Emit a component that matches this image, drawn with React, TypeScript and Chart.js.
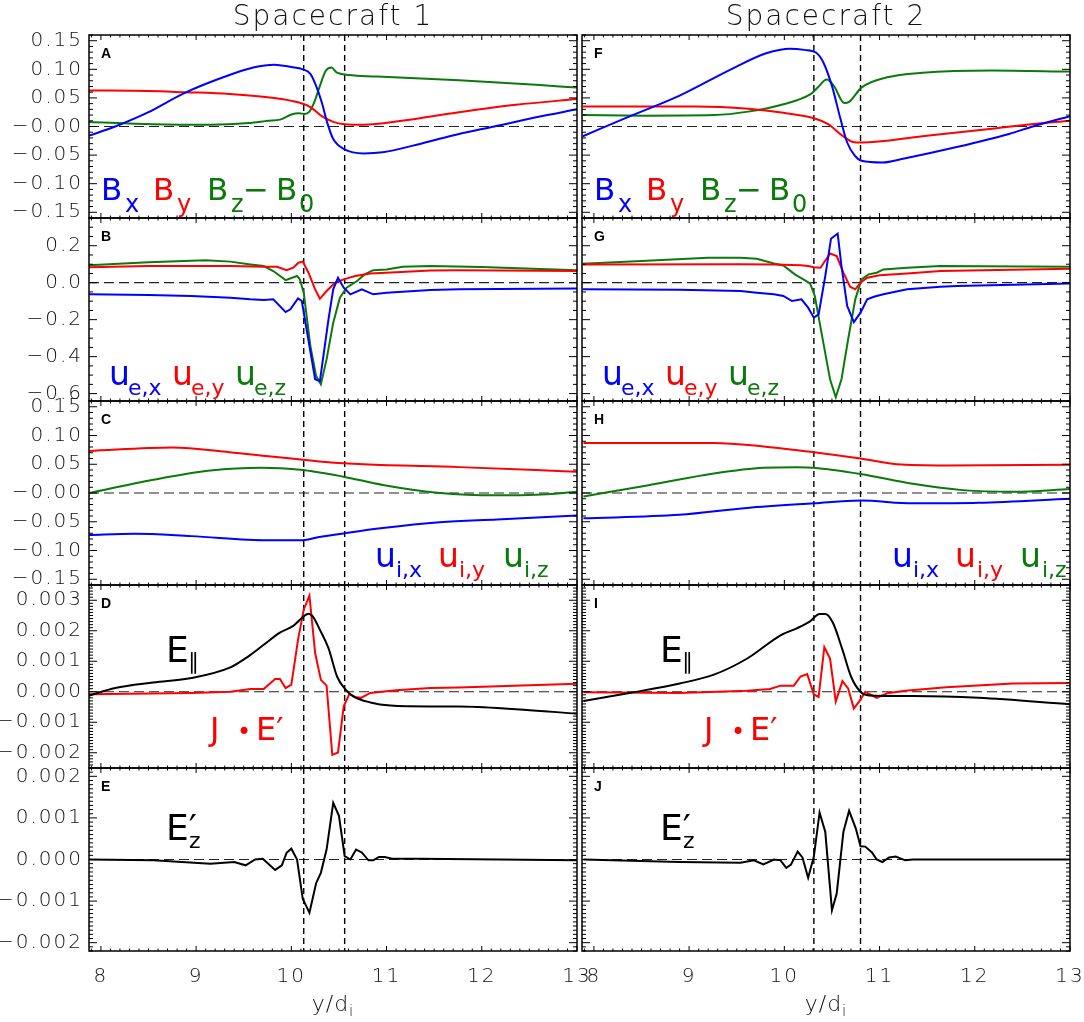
import { useEffect, useRef } from 'react';
import { Chart, registerables } from 'chart.js';

Chart.register(...registerables);

type Pt = [number, number];

// shared x axis, y/d_i
const X_MIN = 7.875;
const X_MAX = 13;
const xTickValues = [8, 9, 10, 11, 12, 13];

// vertical dashed markers
const dashesSC1 = [10.13, 10.56];
const dashesSC2 = [10.31, 10.8];

// y tick values / labels per row
const ticksAC = [0.15, 0.1, 0.05, 0, -0.05, -0.1, -0.15];
const labelsAC = ['0.15', '0.10', '0.05', '−0.00', '−0.05', '−0.10', '−0.15'];
const ticksB = [0.2, 0, -0.2, -0.4, -0.6];
const labelsB = ['0.2', '0.0', '−0.2', '−0.4', '−0.6'];
const ticksD = [0.003, 0.002, 0.001, 0, -0.001, -0.002];
const labelsD = ['0.003', '0.002', '0.001', '0.000', '−0.001', '−0.002'];
const ticksE = [0.002, 0.001, 0, -0.001, -0.002];
const labelsE = ['0.002', '0.001', '0.000', '−0.001', '−0.002'];

// ---- Spacecraft 1 ----
const bxL: Pt[] = [[7.875,-0.016],[8.15,0.0],[8.5,0.025],[8.87,0.058],[9.35,0.09],[9.6,0.103],[9.82,0.108],[10.0,0.104],[10.12,0.1],[10.2,0.092],[10.26,0.071],[10.32,0.042],[10.38,0.005],[10.44,-0.022],[10.56,-0.04],[10.76,-0.047],[10.96,-0.045],[11.36,-0.03],[11.76,-0.013],[12.13,0.0],[12.57,0.016],[13.0,0.03]];
const byL: Pt[] = [[7.875,0.063],[8.5,0.062],[8.87,0.06],[9.35,0.057],[9.82,0.05],[10.08,0.042],[10.2,0.034],[10.32,0.018],[10.44,0.008],[10.56,0.004],[10.76,0.003],[11.16,0.01],[11.76,0.025],[12.36,0.038],[13.0,0.048]];
const bzL: Pt[] = [[7.875,0.008],[8.55,0.004],[9.15,0.003],[9.55,0.006],[9.76,0.01],[9.88,0.012],[10.0,0.021],[10.08,0.023],[10.14,0.022],[10.19,0.026],[10.24,0.042],[10.3,0.071],[10.36,0.097],[10.42,0.103],[10.48,0.094],[10.56,0.091],[10.8,0.088],[10.96,0.087],[11.76,0.081],[12.57,0.073],[13.0,0.068]];

const uexL: Pt[] = [[7.875,-0.063],[8.5,-0.066],[8.95,-0.072],[9.36,-0.081],[9.57,-0.09],[9.71,-0.094],[9.81,-0.09],[9.94,-0.159],[9.99,-0.144],[10.07,-0.085],[10.11,-0.099],[10.16,-0.252],[10.25,-0.523],[10.3,-0.532],[10.39,-0.198],[10.44,-0.036],[10.49,0.027],[10.55,-0.027],[10.62,-0.063],[10.74,-0.036],[10.86,-0.063],[11.0,-0.054],[11.46,-0.04],[11.76,-0.036],[13.0,-0.032]];
const ueyL: Pt[] = [[7.875,0.084],[8.5,0.09],[9.36,0.09],[9.71,0.086],[9.85,0.086],[9.95,0.068],[10.02,0.081],[10.075,0.108],[10.12,0.114],[10.18,0.054],[10.25,-0.036],[10.3,-0.087],[10.37,-0.045],[10.46,0.0],[10.55,0.018],[10.67,0.036],[10.83,0.05],[11.1,0.057],[11.46,0.066],[11.76,0.068],[13.0,0.063]];
const uezL: Pt[] = [[7.875,0.094],[8.5,0.11],[9.1,0.122],[9.36,0.114],[9.57,0.099],[9.71,0.09],[9.81,0.063],[9.94,0.014],[10.06,0.036],[10.09,0.018],[10.13,-0.054],[10.2,-0.343],[10.26,-0.505],[10.31,-0.55],[10.37,-0.415],[10.44,-0.216],[10.51,-0.081],[10.58,-0.027],[10.69,0.009],[10.77,0.045],[10.86,0.068],[11.0,0.072],[11.17,0.086],[11.46,0.09],[12.0,0.085],[13.0,0.068]];

const uixL: Pt[] = [[7.875,-0.073],[8.35,-0.071],[8.95,-0.075],[9.76,-0.082],[10.12,-0.082],[10.28,-0.077],[10.56,-0.07],[10.96,-0.061],[11.56,-0.051],[12.16,-0.046],[13.0,-0.039]];
const uiyL: Pt[] = [[7.875,0.073],[8.75,0.079],[9.35,0.071],[9.76,0.064],[10.12,0.058],[10.36,0.054],[10.76,0.05],[11.76,0.045],[12.57,0.04],[13.0,0.037]];
const uizL: Pt[] = [[7.875,0.0],[8.55,0.023],[9.15,0.039],[9.68,0.044],[10.12,0.04],[10.28,0.036],[10.56,0.028],[10.96,0.014],[11.56,0.0],[12.16,-0.004],[12.57,-0.003],[13.0,0.002]];

const eparL: Pt[] = [[7.875,-0.00013],[8.15,0.00012],[8.55,0.0003],[8.95,0.00045],[9.36,0.0008],[9.53,0.00112],[9.71,0.00154],[9.88,0.00194],[10.02,0.00216],[10.11,0.00242],[10.18,0.00256],[10.23,0.00245],[10.3,0.00203],[10.39,0.00143],[10.48,0.0005],[10.57,0.00007],[10.65,-0.00015],[10.83,-0.00035],[11.04,-0.00045],[11.46,-0.00048],[11.76,-0.00048],[12.36,-0.00057],[13.0,-0.00072]];
const jeL: Pt[] = [[7.875,-0.00008],[8.95,-0.00004],[9.36,0.0],[9.57,0.00009],[9.71,0.00009],[9.83,0.00042],[9.88,0.00042],[9.94,0.00012],[10.0,0.00023],[10.07,0.0017],[10.13,0.00269],[10.19,0.00315],[10.25,0.00127],[10.31,0.00039],[10.37,0.0002],[10.43,-0.00207],[10.49,-0.00199],[10.55,-0.00048],[10.61,-0.00007],[10.67,-0.00017],[10.73,-0.0002],[10.83,-0.00004],[11.1,0.00005],[11.46,0.00012],[11.76,0.00014],[13.0,0.00026]];

const ezL: Pt[] = [[7.875,0.0],[8.55,-0.00002],[9.15,-0.0001],[9.4,-0.00006],[9.52,-0.00014],[9.62,0.0],[9.7,0.00002],[9.83,-0.00025],[9.9,-0.00014],[9.95,0.00016],[10.0,0.00026],[10.06,0.0],[10.12,-0.00095],[10.19,-0.00128],[10.26,-0.00057],[10.31,-0.00032],[10.37,0.00024],[10.44,0.00136],[10.5,0.00105],[10.56,0.00008],[10.62,0.0],[10.68,0.00024],[10.74,0.00017],[10.81,-0.00002],[10.86,-0.00002],[10.92,0.00006],[10.98,0.00006],[11.06,0.00002],[11.36,0.00002],[13.0,-0.00002]];

// ---- Spacecraft 2 ----
const bxR: Pt[] = [[7.884,-0.017],[8.35,0.016],[8.9,0.054],[9.44,0.1],[9.81,0.128],[10.06,0.136],[10.21,0.134],[10.335,0.129],[10.41,0.112],[10.5,0.071],[10.59,0.013],[10.66,-0.028],[10.74,-0.051],[10.81,-0.06],[11.03,-0.063],[11.26,-0.056],[11.81,-0.036],[12.36,-0.013],[12.61,0.0],[13.0,0.018]];
const byR: Pt[] = [[7.884,0.035],[9.08,0.035],[9.62,0.031],[9.99,0.024],[10.32,0.014],[10.46,0.004],[10.61,-0.016],[10.72,-0.027],[10.81,-0.028],[11.45,-0.017],[12.18,-0.004],[12.54,0.003],[13.0,0.01]];
const bzR: Pt[] = [[7.884,0.02],[8.53,0.019],[9.26,0.02],[9.62,0.026],[9.99,0.039],[10.28,0.057],[10.35,0.068],[10.445,0.082],[10.52,0.071],[10.63,0.041],[10.68,0.043],[10.81,0.068],[11.08,0.086],[11.45,0.094],[12.18,0.098],[13.0,0.096]];

const uexR: Pt[] = [[7.884,-0.036],[8.9,-0.038],[9.54,-0.045],[9.71,-0.054],[9.89,-0.063],[9.99,-0.072],[10.08,-0.099],[10.18,-0.09],[10.25,-0.135],[10.31,-0.189],[10.36,-0.171],[10.43,0.036],[10.49,0.238],[10.56,0.266],[10.6,0.09],[10.66,-0.126],[10.73,-0.213],[10.8,-0.162],[10.87,-0.09],[10.94,-0.076],[11.04,-0.063],[11.29,-0.036],[11.64,-0.022],[11.81,-0.018],[13.0,-0.004]];
const ueyR: Pt[] = [[7.884,0.099],[9.54,0.1],[9.89,0.099],[10.17,0.095],[10.25,0.09],[10.31,0.084],[10.38,0.081],[10.48,0.158],[10.55,0.144],[10.62,0.054],[10.69,-0.022],[10.745,-0.036],[10.8,0.0],[10.87,0.027],[11.0,0.04],[11.29,0.05],[11.64,0.063],[13.0,0.076]];
const uezR: Pt[] = [[7.884,0.103],[8.5,0.117],[9.2,0.135],[9.54,0.135],[9.71,0.13],[9.89,0.104],[9.99,0.093],[10.11,0.045],[10.2,0.018],[10.27,-0.004],[10.32,-0.072],[10.39,-0.27],[10.48,-0.523],[10.54,-0.62],[10.6,-0.523],[10.67,-0.306],[10.745,-0.09],[10.81,0.018],[10.885,0.045],[10.97,0.054],[11.04,0.072],[11.29,0.081],[11.64,0.09],[13.0,0.086]];

const uixR: Pt[] = [[7.89,-0.044],[8.9,-0.038],[9.61,-0.026],[10.31,-0.018],[10.8,-0.013],[11.35,-0.018],[12.04,-0.017],[13.0,-0.01]];
const uiyR: Pt[] = [[7.89,0.087],[9.26,0.087],[9.78,0.081],[10.31,0.071],[10.8,0.06],[11.18,0.05],[11.7,0.048],[13.0,0.049]];
const uizR: Pt[] = [[7.89,-0.006],[8.56,0.013],[9.26,0.034],[9.78,0.044],[10.13,0.045],[10.31,0.044],[10.8,0.033],[11.35,0.016],[11.87,0.005],[12.4,0.002],[13.0,0.007]];

const eparR: Pt[] = [[7.89,-0.0003],[8.39,-0.00003],[8.9,0.00027],[9.26,0.00056],[9.61,0.00109],[9.96,0.00185],[10.13,0.00208],[10.27,0.00231],[10.37,0.00255],[10.43,0.00255],[10.51,0.00226],[10.61,0.00138],[10.7,0.0005],[10.8,0.0],[10.89,-0.00012],[11.35,-0.00014],[12.04,-0.0002],[13.0,-0.00041]];
const jeR: Pt[] = [[7.89,-0.00002],[8.9,-0.00004],[9.61,0.00003],[9.85,0.00009],[9.96,0.0002],[10.1,0.0002],[10.17,0.0005],[10.24,0.00058],[10.31,-0.00009],[10.36,-0.00017],[10.42,0.00146],[10.48,0.00109],[10.54,-0.00032],[10.61,0.00035],[10.67,0.00011],[10.73,-0.00055],[10.8,-0.00026],[10.85,0.0],[10.97,-0.0002],[11.08,-0.00005],[11.27,0.00003],[11.7,0.00015],[12.4,0.00027],[13.0,0.00029]];

const ezR: Pt[] = [[7.89,0.0],[8.9,-0.00006],[9.54,-0.00008],[9.68,-0.00002],[9.78,-0.00012],[9.89,0.0],[9.96,-0.00002],[10.02,-0.0002],[10.07,-0.00012],[10.14,0.00019],[10.19,0.00005],[10.25,-0.00044],[10.31,0.00007],[10.37,0.00113],[10.43,0.00066],[10.5,-0.00122],[10.55,-0.00082],[10.62,0.00066],[10.68,0.00117],[10.75,0.00075],[10.8,0.00032],[10.85,0.00031],[10.92,0.00017],[10.97,0.0],[11.03,-0.00006],[11.1,0.00005],[11.17,0.00007],[11.27,-0.00002],[11.35,0.0],[13.0,0.0]];

const BLUE = '#0000ff';
const RED = '#ff0000';
const GREEN = '#0a7a0a';
const BLACK = '#000000';
const FONT = '"DejaVu Sans", "Noto Sans", sans-serif';

// geometry
const COL_X = [89, 582];
const PLOT_W = 488;
const ROW_Y = [35, 218, 401, 585, 768, 951];
const PAD = 14;
const Y_AXIS_W = 89;
const X_AXIS_H = 60;

interface Series { pts: Pt[]; color: string; smooth: boolean }

const rowAxes = [
  { range: [-0.16, 0.16], ticks: ticksAC, labels: labelsAC, minor: 0.01 },
  { range: [-0.64, 0.35], ticks: ticksB, labels: labelsB, minor: 0.05 },
  { range: [-0.16, 0.16], ticks: ticksAC, labels: labelsAC, minor: 0.01 },
  { range: [-0.0025, 0.0035], ticks: ticksD, labels: labelsD, minor: 0.0001 },
  { range: [-0.0022, 0.0022], ticks: ticksE, labels: labelsE, minor: 0.0001 },
];

const columns: Series[][][] = [
  [
    [{ pts: bxL, color: BLUE, smooth: true }, { pts: byL, color: RED, smooth: true }, { pts: bzL, color: GREEN, smooth: true }],
    [{ pts: uexL, color: BLUE, smooth: false }, { pts: ueyL, color: RED, smooth: false }, { pts: uezL, color: GREEN, smooth: false }],
    [{ pts: uixL, color: BLUE, smooth: true }, { pts: uiyL, color: RED, smooth: true }, { pts: uizL, color: GREEN, smooth: true }],
    [{ pts: eparL, color: BLACK, smooth: true }, { pts: jeL, color: RED, smooth: false }],
    [{ pts: ezL, color: BLACK, smooth: false }],
  ],
  [
    [{ pts: bxR, color: BLUE, smooth: true }, { pts: byR, color: RED, smooth: true }, { pts: bzR, color: GREEN, smooth: true }],
    [{ pts: uexR, color: BLUE, smooth: false }, { pts: ueyR, color: RED, smooth: false }, { pts: uezR, color: GREEN, smooth: false }],
    [{ pts: uixR, color: BLUE, smooth: true }, { pts: uiyR, color: RED, smooth: true }, { pts: uizR, color: GREEN, smooth: true }],
    [{ pts: eparR, color: BLACK, smooth: true }, { pts: jeR, color: RED, smooth: false }],
    [{ pts: ezR, color: BLACK, smooth: false }],
  ],
];
const columnDashes = [dashesSC1, dashesSC2];

const framePlugin = {
  id: 'frame',
  beforeDraw(chart: any) {
    // wider, IDL-like tick label spacing
    chart.ctx.letterSpacing = '2px';
  },
  beforeDatasetsDraw(chart: any, _args: any, opts: any) {
    const { ctx, chartArea: { left, right, top, bottom }, scales: { x, y } } = chart;
    ctx.save();
    ctx.beginPath();
    ctx.rect(left, top, right - left, bottom - top);
    ctx.clip();
    const y0 = y.getPixelForValue(0);
    ctx.setLineDash([10, 5]);
    ctx.strokeStyle = '#222';
    ctx.lineWidth = 1.2;
    ctx.beginPath();
    ctx.moveTo(left, y0);
    ctx.lineTo(right, y0);
    ctx.stroke();
    ctx.setLineDash([6, 4]);
    ctx.strokeStyle = '#000';
    ctx.lineWidth = 1.4;
    for (const d of opts.dashes) {
      const px = x.getPixelForValue(d);
      ctx.beginPath();
      ctx.moveTo(px, top);
      ctx.lineTo(px, bottom);
      ctx.stroke();
    }
    ctx.restore();
  },
  afterDatasetsDraw(chart: any, _args: any, opts: any) {
    const { ctx, chartArea: { left, right, top, bottom }, scales: { x, y } } = chart;
    ctx.save();
    ctx.setLineDash([]);
    ctx.strokeStyle = '#000';
    ctx.lineWidth = 1.5;
    ctx.strokeRect(left, top, right - left, bottom - top);
    ctx.lineWidth = 1;
    ctx.beginPath();
    for (let i = Math.ceil(X_MIN * 10); i <= Math.round(X_MAX * 10); i++) {
      const px = x.getPixelForValue(i / 10);
      const len = i % 10 === 0 ? 5 : 2.5;
      ctx.moveTo(px, bottom);
      ctx.lineTo(px, bottom - len);
      ctx.moveTo(px, top);
      ctx.lineTo(px, top + len);
    }
    const [yMin, yMax] = opts.range;
    const step = opts.minor;
    for (let i = Math.ceil(yMin / step - 1e-6); i <= Math.floor(yMax / step + 1e-6); i++) {
      const v = i * step;
      const py = y.getPixelForValue(v);
      const major = opts.ticks.some((t: number) => Math.abs(t - v) < step / 10);
      const len = major ? 8 : 4;
      ctx.moveTo(left, py);
      ctx.lineTo(left + len, py);
      ctx.moveTo(right, py);
      ctx.lineTo(right - len, py);
    }
    ctx.stroke();
    ctx.restore();
  },
};

function Panel({ col, row }: { col: number; row: number }) {
  const canvasRef = useRef<HTMLCanvasElement>(null);
  const isLeft = col === 0;
  const isBottom = row === 4;
  const h = ROW_Y[row + 1] - ROW_Y[row];
  const boxLeft = isLeft ? 0 : COL_X[1] - PAD;
  const boxWidth = (isLeft ? Y_AXIS_W : PAD) + PLOT_W + PAD;
  const boxTop = ROW_Y[row] - PAD;
  const boxHeight = PAD + h + (isBottom ? X_AXIS_H : PAD);

  useEffect(() => {
    if (!canvasRef.current) return;
    const axis = rowAxes[row];
    const tickFont = { family: FONT, size: 20, weight: 300 as any };
    const chart = new Chart(canvasRef.current, {
      type: 'line',
      data: {
        datasets: columns[col][row].map((s) => ({
          data: s.pts.map(([x, y]) => ({ x, y })),
          borderColor: s.color,
          borderWidth: 2,
          pointRadius: 0,
          fill: false,
          tension: s.smooth ? 0.4 : 0,
          cubicInterpolationMode: s.smooth ? ('monotone' as const) : ('default' as const),
        })),
      },
      options: {
        responsive: true,
        maintainAspectRatio: false,
        animation: false,
        events: [],
        layout: { padding: { left: isLeft ? 0 : PAD, right: PAD, top: PAD, bottom: isBottom ? 0 : PAD } },
        plugins: {
          legend: { display: false },
          tooltip: { enabled: false },
          frame: { dashes: columnDashes[col], range: axis.range, ticks: axis.ticks, minor: axis.minor },
        } as any,
        scales: {
          x: {
            type: 'linear',
            min: X_MIN,
            max: X_MAX,
            display: isBottom,
            grid: { display: false, drawTicks: false },
            border: { display: false },
            afterBuildTicks: (s: any) => { s.ticks = xTickValues.map((v) => ({ value: v })); },
            afterFit: (s: any) => {
              if (isBottom) s.height = X_AXIS_H;
              s.paddingLeft = 0;
              s.paddingRight = 0;
            },
            ticks: {
              autoSkip: false,
              maxRotation: 0,
              padding: 14,
              color: '#111',
              font: { family: FONT, size: 20, weight: 300 as any },
              callback: (v: any) => String(v),
            },
          },
          y: {
            type: 'linear',
            min: axis.range[0],
            max: axis.range[1],
            display: isLeft,
            grid: { display: false, drawTicks: false },
            border: { display: false },
            afterBuildTicks: (s: any) => { s.ticks = axis.ticks.map((v) => ({ value: v })); },
            afterFit: (s: any) => {
              if (isLeft) s.width = Y_AXIS_W;
              s.paddingTop = 0;
              s.paddingBottom = 0;
            },
            ticks: {
              autoSkip: false,
              padding: 6,
              color: '#111',
              font: tickFont,
              callback: (_v: any, i: number) => axis.labels[i],
            },
          },
        },
      },
      plugins: [framePlugin],
    });
    return () => chart.destroy();
  }, [col, row]);

  return (
    <div style={{ position: 'absolute', left: boxLeft, top: boxTop, width: boxWidth, height: boxHeight }}>
      <canvas ref={canvasRef} />
    </div>
  );
}

function T({ x, y, size, color = '#000', weight = 400, family = FONT, center = false, spacing = 0, children }: {
  x: number; y: number; size: number; color?: string; weight?: number; family?: string; center?: boolean; spacing?: number; children: any;
}) {
  return (
    <span
      style={{
        position: 'absolute',
        left: x,
        top: y - 0.846 * size,
        fontSize: size,
        lineHeight: 1,
        color,
        fontWeight: weight,
        fontFamily: family,
        letterSpacing: spacing,
        whiteSpace: 'nowrap',
        transform: center ? 'translateX(-50%)' : undefined,
      }}
    >
      {children}
    </span>
  );
}

const letters = [['A', 'B', 'C', 'D', 'E'], ['F', 'G', 'H', 'I', 'J']];

function ColumnText({ col }: { col: number }) {
  const dx = col === 0 ? 0 : 493;
  const cx = COL_X[col] + PLOT_W / 2;
  const uiX = col === 0 ? [375, 396, 438, 459, 503, 524] : [892, 913, 955, 977, 1020, 1042];
  const dE = col === 0 ? 0 : 494;
  return (
    <>
      <T x={cx} y={26} size={28} color="#111" weight={300} spacing={2} center>Spacecraft {col + 1}</T>
      {letters[col].map((l, r) => (
        <T key={l} x={COL_X[col] + 12} y={ROW_Y[r] + 23} size={14} weight={700} family='"Liberation Sans", Arial, sans-serif'>{l}</T>
      ))}
      {/* B legend */}
      <T x={101 + dx} y={200} size={31} color={BLUE}>B</T>
      <T x={125 + dx} y={212} size={24} color={BLUE}>x</T>
      <T x={153 + dx} y={200} size={31} color={RED}>B</T>
      <T x={177 + dx} y={212} size={24} color={RED}>y</T>
      <T x={207 + dx} y={200} size={31} color={GREEN}>B</T>
      <T x={231 + dx} y={212} size={24} color={GREEN}>z</T>
      <T x={243 + dx} y={200} size={31} color={GREEN}>−</T>
      <T x={276 + dx} y={200} size={31} color={GREEN}>B</T>
      <T x={299 + dx} y={212} size={24} color={GREEN}>0</T>
      {/* ue legend */}
      <T x={109 + dx} y={385} size={33} color={BLUE}>u</T>
      <T x={128 + dx} y={396} size={22} color={BLUE}>e,x</T>
      <T x={172 + dx} y={385} size={33} color={RED}>u</T>
      <T x={191 + dx} y={396} size={22} color={RED}>e,y</T>
      <T x={235 + dx} y={385} size={33} color={GREEN}>u</T>
      <T x={254 + dx} y={396} size={22} color={GREEN}>e,z</T>
      {/* ui legend */}
      <T x={uiX[0]} y={567} size={33} color={BLUE}>u</T>
      <T x={uiX[1]} y={578} size={22} color={BLUE}>i,x</T>
      <T x={uiX[2]} y={567} size={33} color={RED}>u</T>
      <T x={uiX[3]} y={578} size={22} color={RED}>i,y</T>
      <T x={uiX[4]} y={567} size={33} color={GREEN}>u</T>
      <T x={uiX[5]} y={578} size={22} color={GREEN}>i,z</T>
      {/* E parallel, J.E' */}
      <T x={166 + dE} y={662} size={36}>E</T>
      <T x={188 + dE} y={670} size={22}>∥</T>
      <T x={210 + dE} y={740} size={32} color={RED}>J</T>
      <T x={237 + dE} y={740} size={24} color={RED}>•</T>
      <T x={256 + dE} y={740} size={32} color={RED}>E′</T>
      {/* E'z */}
      <T x={166 + dE} y={840} size={36}>E′</T>
      <T x={189 + dE} y={849} size={22}>z</T>
      {/* x title */}
      <T x={cx} y={1012} size={22} color="#111" weight={300} spacing={1} center>
        y/d<span style={{ fontSize: 15, position: 'relative', top: 5 }}>i</span>
      </T>
    </>
  );
}

export default function App() {
  return (
    <div style={{ position: 'absolute', left: 0, top: 0, width: 1084, height: 1022, overflow: 'hidden', background: '#fff' }}>
      {[0, 1].map((c) => [0, 1, 2, 3, 4].map((r) => <Panel key={`${c}-${r}`} col={c} row={r} />))}
      <ColumnText col={0} />
      <ColumnText col={1} />
    </div>
  );
}
